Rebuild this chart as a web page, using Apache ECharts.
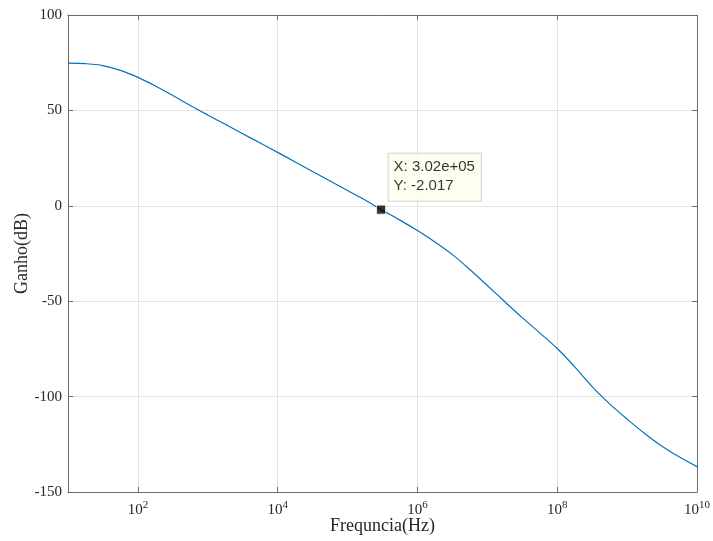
<!DOCTYPE html>
<html>
<head>
<meta charset="utf-8">
<script src="https://cdn.jsdelivr.net/npm/echarts@6/dist/echarts.min.js"></script>
<style>
html,body{margin:0;padding:0;background:#fff;}
#chart{width:713px;height:541px;}
</style>
</head>
<body>
<div id="chart"></div>
<script>
// Frequency (Hz) and gain (dB) (quarter-decade steps)
const freqHz = [10, 17.8, 31.6, 56.2, 100, 178, 316, 562, 1e3, 1.78e3, 3.16e3, 5.62e3, 1e4, 1.78e4, 3.16e4, 5.62e4, 1e5, 1.78e5, 3.16e5, 5.62e5, 1e6, 1.78e6, 3.16e6, 5.62e6, 1e7, 1.78e7, 3.16e7, 5.62e7, 1e8, 1.78e8, 3.16e8, 5.62e8, 1e9, 1.78e9, 3.16e9, 5.62e9, 1e10];
const gainDb = [74.8, 74.5, 73.5, 71.0, 67.3, 62.8, 57.8, 52.6, 47.6, 42.7, 37.8, 32.9, 28.0, 23.0, 18.0, 13.0, 8.0, 3.0, -2.4, -7.5, -13.0, -19.0, -25.6, -33.4, -41.8, -50.3, -58.6, -66.6, -74.8, -84.4, -94.8, -103.8, -111.8, -119.3, -126.0, -131.7, -136.7];
const tipX = [302000];
const tipY = [-2.017];
const tipText = ['X: 3.02e+05', 'Y: -2.017'];
const yMin = -150, yMax = 100, yStep = 50;
const xMin = 10, xMax = 1e10;
const xTitle = 'Frequncia(Hz)';
const yTitle = 'Ganho(dB)';

const serif = 'Liberation Serif';
const frameColor = '#6a6a6a';
const gridColor = '#e3e3e3';
const textColor = '#262626';

const chart = echarts.init(document.getElementById('chart'), null, {renderer: 'canvas'});

function xLabel(v) {
  const e = Math.round(Math.log10(v));
  if (v <= xMin * 1.01) return '';
  return '{b|10}{s|' + e + '}';
}

const baseX = {
  type: 'log',
  logBase: 100,
  min: xMin,
  max: xMax,
  axisLine: {show: true, onZero: false, lineStyle: {color: frameColor, width: 1}},
  axisTick: {show: true, inside: true, length: 5, lineStyle: {color: frameColor}},
  minorTick: {show: false}
};

const option = {
  backgroundColor: '#ffffff',
  animation: false,
  grid: {left: 68, right: 16, top: 15, bottom: 49, containLabel: false, outerBoundsMode: 'none'},
  xAxis: [
    Object.assign({}, baseX, {
      position: 'bottom',
      name: xTitle,
      nameLocation: 'middle',
      nameGap: 25,
      nameMoveOverlap: false,
      nameTextStyle: {fontFamily: serif, fontSize: 18, color: textColor},
      splitLine: {show: true, lineStyle: {color: gridColor, width: 1}},
      axisLabel: {
        show: true,
        margin: 8,
        formatter: xLabel,
        showMinLabel: false,
        rich: {
          b: {fontFamily: serif, fontSize: 15, color: textColor, verticalAlign: 'bottom', lineHeight: 18},
          s: {fontFamily: serif, fontSize: 11, color: textColor, verticalAlign: 'top', padding: [0, 0, 8, 0], lineHeight: 18}
        }
      }
    }),
    Object.assign({}, baseX, {
      position: 'top',
      splitLine: {show: false},
      axisLabel: {show: false}
    })
  ],
  yAxis: [
    {
      type: 'value',
      min: yMin, max: yMax, interval: yStep,
      position: 'left',
      name: yTitle,
      nameLocation: 'middle',
      nameGap: 37,
      nameMoveOverlap: false,
      nameRotate: 90,
      nameTextStyle: {fontFamily: serif, fontSize: 18, color: textColor},
      axisLine: {show: true, onZero: false, lineStyle: {color: frameColor, width: 1}},
      axisTick: {show: true, inside: true, length: 5, lineStyle: {color: frameColor}},
      splitLine: {show: true, lineStyle: {color: gridColor, width: 1}},
      axisLabel: {fontFamily: serif, fontSize: 15, color: textColor, margin: 6}
    },
    {
      type: 'value',
      min: yMin, max: yMax, interval: yStep,
      position: 'right',
      axisLine: {show: true, onZero: false, lineStyle: {color: frameColor, width: 1}},
      axisTick: {show: true, inside: true, length: 5, lineStyle: {color: frameColor}},
      splitLine: {show: false},
      axisLabel: {show: false}
    }
  ],
  series: [
    {
      type: 'line',
      data: freqHz.map((f, i) => [f, gainDb[i]]),
      smooth: 0.35,
      showSymbol: false,
      lineStyle: {color: '#0072BD', width: 1.2},
      z: 3
    },
    {
      type: 'scatter',
      data: tipX.map((f, i) => [f, tipY[i]]),
      symbol: 'rect',
      symbolSize: 9,
      itemStyle: {color: '#000000', borderColor: '#fff8c0', borderWidth: 1},
      label: {
        show: true,
        position: [12.5, -51],
        align: 'left',
        verticalAlign: 'top',
        formatter: tipText.join('\n'),
        fontFamily: 'Liberation Sans',
        fontSize: 15,
        lineHeight: 19,
        color: '#000000',
        backgroundColor: '#ffffed',
        borderColor: '#cccccc',
        borderWidth: 1,
        padding: [4, 6, 5, 5]
      },
      z: 5
    }
  ]
};
chart.setOption(option);
</script>
</body>
</html>
